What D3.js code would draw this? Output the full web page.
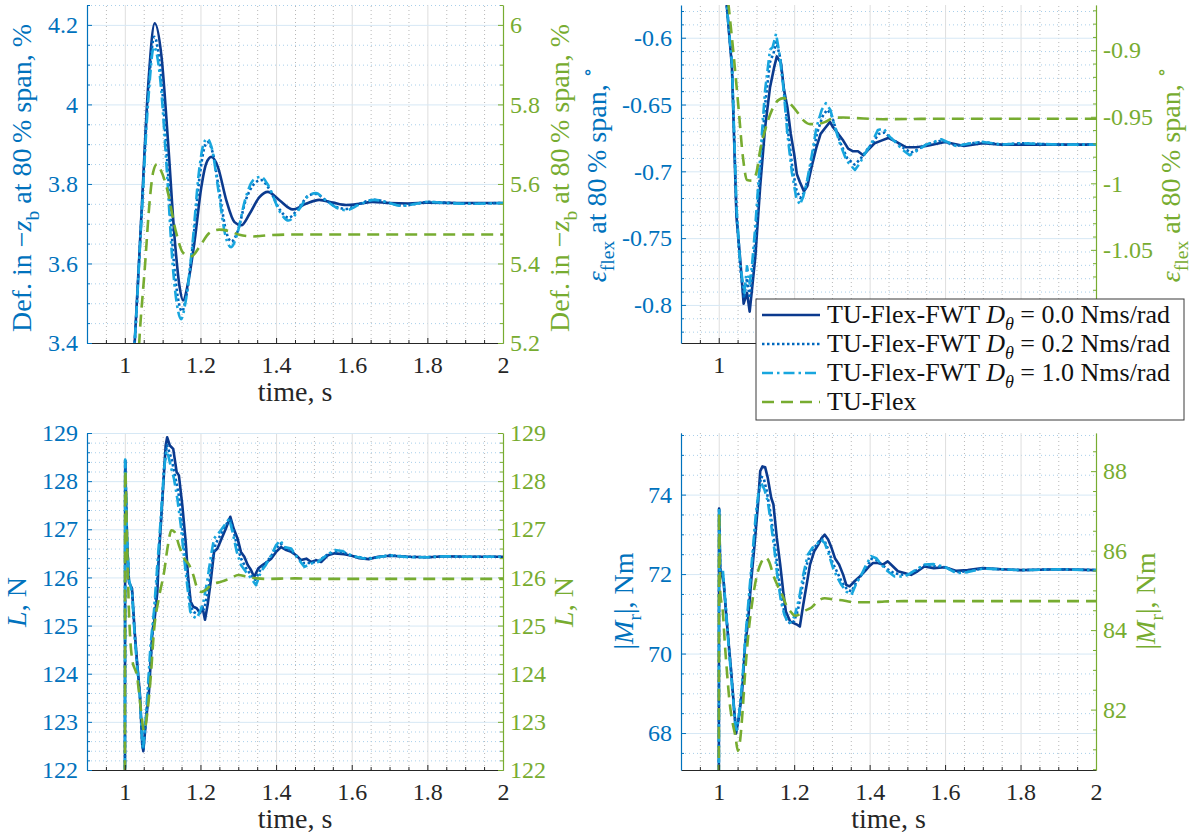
<!DOCTYPE html>
<html>
<head>
<meta charset="utf-8">
<script src="https://cdn.jsdelivr.net/npm/d3@7"></script>
<style>
body{margin:0;background:#fff}
</style>
</head>
<body>
<script>
// time axis
var timeTicks = [1,1.2,1.4,1.6,1.8,2]
var timeTickLabels = ["1","1.2","1.4","1.6","1.8","2"]

// deflection at 80% span
var defTicksL = [3.4,3.6,3.8,4,4.2]
var defTickLabelsL = ["3.4","3.6","3.8","4","4.2"]
var defTicksR = [5.2,5.4,5.6,5.8,6]
var defTickLabelsR = ["5.2","5.4","5.6","5.8","6"]
var defD00 = [[1.015,3.25],[1.026,3.40],[1.044,3.725],[1.062,4.05],[1.079,4.204],[1.097,4.12],[1.114,3.91],[1.132,3.66],[1.145,3.54],[1.154,3.507],[1.167,3.55],[1.185,3.66],[1.202,3.79],[1.215,3.851],[1.229,3.868],[1.246,3.843],[1.268,3.76],[1.29,3.704],[1.308,3.696],[1.33,3.725],[1.356,3.767],[1.378,3.78],[1.409,3.759],[1.444,3.736],[1.479,3.75],[1.514,3.76],[1.55,3.753],[1.585,3.747],[1.62,3.75],[1.655,3.755],[1.70,3.752],[1.75,3.751],[1.80,3.753],[1.9,3.752],[2.0,3.752]]
var defD02 = [[1.015,3.25],[1.026,3.40],[1.044,3.72],[1.062,4.03],[1.078,4.17],[1.095,4.08],[1.112,3.86],[1.13,3.60],[1.143,3.50],[1.151,3.48],[1.163,3.52],[1.18,3.65],[1.198,3.82],[1.21,3.89],[1.219,3.905],[1.232,3.88],[1.25,3.78],[1.268,3.68],[1.282,3.655],[1.298,3.68],[1.32,3.76],[1.342,3.80],[1.36,3.81],[1.38,3.79],[1.41,3.735],[1.433,3.715],[1.46,3.74],[1.485,3.77],[1.505,3.775],[1.53,3.76],[1.56,3.742],[1.585,3.737],[1.62,3.75],[1.66,3.76],[1.7,3.752],[1.73,3.746],[1.77,3.75],[1.80,3.755],[1.85,3.753],[1.9,3.751],[2.0,3.752]]
var defD10 = [[1.015,3.25],[1.026,3.40],[1.044,3.71],[1.062,4.01],[1.077,4.145],[1.094,4.06],[1.11,3.85],[1.128,3.58],[1.141,3.48],[1.149,3.46],[1.16,3.50],[1.178,3.64],[1.196,3.83],[1.208,3.90],[1.218,3.914],[1.23,3.89],[1.248,3.78],[1.266,3.67],[1.281,3.641],[1.296,3.67],[1.318,3.76],[1.34,3.81],[1.36,3.818],[1.38,3.795],[1.41,3.73],[1.433,3.708],[1.46,3.735],[1.485,3.77],[1.505,3.777],[1.53,3.76],[1.56,3.74],[1.585,3.734],[1.62,3.748],[1.66,3.76],[1.7,3.752],[1.73,3.745],[1.77,3.75],[1.80,3.755],[1.85,3.752],[1.9,3.75],[2.0,3.752]]
var defFlex = [[1.030,5.05],[1.038,5.2],[1.053,5.39],[1.066,5.56],[1.075,5.63],[1.085,5.65],[1.095,5.635],[1.11,5.594],[1.136,5.477],[1.154,5.427],[1.176,5.418],[1.198,5.443],[1.224,5.477],[1.25,5.485],[1.277,5.481],[1.303,5.472],[1.338,5.468],[1.38,5.471],[1.45,5.473],[2.0,5.473]]

// twist eps_flex at 80% span
var epsTicksL = [-0.8,-0.75,-0.7,-0.65,-0.6]
var epsTickLabelsL = ["-0.8","-0.75","-0.7","-0.65","-0.6"]
var epsTicksR = [-1.05,-1,-0.95,-0.9]
var epsTickLabelsR = ["-1.05","-1","-0.95","-0.9"]
var epsD00 = [[1.012,-0.55],[1.022,-0.578],[1.035,-0.622],[1.047,-0.734],[1.057,-0.766],[1.066,-0.799],[1.075,-0.791],[1.082,-0.805],[1.088,-0.789],[1.097,-0.764],[1.11,-0.711],[1.123,-0.667],[1.136,-0.637],[1.147,-0.622],[1.154,-0.614],[1.165,-0.619],[1.173,-0.639],[1.182,-0.652],[1.191,-0.672],[1.2,-0.687],[1.207,-0.702],[1.215,-0.708],[1.226,-0.715],[1.235,-0.711],[1.246,-0.697],[1.259,-0.682],[1.27,-0.672],[1.281,-0.668],[1.295,-0.663],[1.303,-0.667],[1.317,-0.672],[1.33,-0.677],[1.343,-0.683],[1.356,-0.685],[1.369,-0.685],[1.383,-0.688],[1.396,-0.684],[1.413,-0.679],[1.431,-0.677],[1.449,-0.675],[1.471,-0.678],[1.497,-0.682],[1.523,-0.682],[1.55,-0.681],[1.6,-0.678],[1.65,-0.681],[1.7,-0.679],[1.75,-0.680],[1.8,-0.680],[1.9,-0.680],[2.0,-0.680]]
var epsD02 = [[1.012,-0.55],[1.022,-0.578],[1.035,-0.620],[1.047,-0.730],[1.057,-0.772],[1.067,-0.795],[1.075,-0.780],[1.082,-0.795],[1.088,-0.780],[1.097,-0.752],[1.11,-0.700],[1.123,-0.650],[1.136,-0.618],[1.145,-0.612],[1.153,-0.603],[1.163,-0.615],[1.173,-0.640],[1.183,-0.668],[1.195,-0.697],[1.206,-0.714],[1.216,-0.720],[1.226,-0.716],[1.236,-0.706],[1.248,-0.690],[1.261,-0.671],[1.275,-0.659],[1.287,-0.654],[1.298,-0.657],[1.31,-0.668],[1.323,-0.679],[1.34,-0.690],[1.36,-0.695],[1.375,-0.691],[1.39,-0.685],[1.407,-0.679],[1.424,-0.672],[1.44,-0.671],[1.456,-0.675],[1.475,-0.679],[1.492,-0.683],[1.51,-0.686],[1.525,-0.684],[1.55,-0.680],[1.59,-0.677],[1.63,-0.681],[1.67,-0.679],[1.7,-0.678],[1.75,-0.680],[1.8,-0.679],[1.9,-0.680],[2.0,-0.680]]
var epsD10 = [[1.012,-0.55],[1.022,-0.578],[1.035,-0.619],[1.047,-0.726],[1.057,-0.770],[1.068,-0.791],[1.075,-0.771],[1.082,-0.784],[1.088,-0.771],[1.097,-0.741],[1.11,-0.689],[1.123,-0.639],[1.136,-0.609],[1.143,-0.607],[1.152,-0.597],[1.161,-0.612],[1.172,-0.639],[1.182,-0.672],[1.194,-0.701],[1.205,-0.719],[1.215,-0.725],[1.224,-0.719],[1.235,-0.706],[1.246,-0.689],[1.259,-0.667],[1.273,-0.654],[1.284,-0.649],[1.296,-0.654],[1.308,-0.667],[1.321,-0.679],[1.339,-0.692],[1.361,-0.699],[1.374,-0.694],[1.387,-0.687],[1.405,-0.679],[1.422,-0.669],[1.437,-0.668],[1.453,-0.674],[1.471,-0.679],[1.488,-0.684],[1.506,-0.688],[1.523,-0.685],[1.55,-0.680],[1.59,-0.676],[1.63,-0.681],[1.67,-0.679],[1.7,-0.678],[1.75,-0.680],[1.8,-0.679],[1.9,-0.680],[2.0,-0.680]]
var epsFlex = [[1.02,-0.85],[1.026,-0.866],[1.040,-0.905],[1.053,-0.945],[1.064,-0.98],[1.075,-0.9975],[1.087,-0.998],[1.099,-0.993],[1.11,-0.975],[1.123,-0.96],[1.141,-0.945],[1.158,-0.9375],[1.172,-0.936],[1.189,-0.94],[1.207,-0.946],[1.224,-0.9525],[1.242,-0.9555],[1.259,-0.9555],[1.281,-0.954],[1.303,-0.951],[1.33,-0.9505],[1.365,-0.951],[1.435,-0.9518],[1.6,-0.9515],[2.0,-0.9515]]

// lift
var liftTicks = [122,123,124,125,126,127,128,129]
var liftTickLabels = ["122","123","124","125","126","127","128","129"]
var liftD00 = [[1.0,118],[1.001,128.43],[1.006,126.74],[1.011,125.9],[1.019,125.77],[1.026,124.88],[1.033,124.19],[1.04,123.57],[1.046,122.53],[1.049,122.39],[1.055,122.94],[1.064,123.63],[1.073,124.88],[1.079,125.15],[1.086,125.7],[1.09,126.46],[1.099,127.57],[1.108,128.74],[1.112,128.91],[1.119,128.74],[1.128,128.67],[1.137,128.19],[1.143,128.12],[1.152,127.5],[1.161,126.74],[1.167,126.05],[1.174,125.5],[1.181,125.39],[1.19,125.36],[1.199,125.26],[1.205,125.39],[1.212,125.12],[1.219,125.43],[1.227,125.91],[1.236,126.53],[1.245,126.6],[1.256,126.81],[1.267,127.01],[1.279,127.26],[1.288,127.01],[1.298,126.81],[1.307,126.53],[1.316,126.43],[1.325,126.26],[1.334,126.15],[1.342,126.01],[1.353,126.19],[1.365,126.26],[1.376,126.32],[1.387,126.39],[1.4,126.53],[1.413,126.63],[1.427,126.57],[1.44,126.53],[1.453,126.46],[1.466,126.36],[1.48,126.39],[1.493,126.32],[1.506,126.36],[1.519,126.32],[1.537,126.46],[1.555,126.5],[1.58,126.48],[1.6,126.45],[1.62,126.4],[1.645,126.38],[1.67,126.43],[1.7,126.45],[1.75,126.43],[1.8,126.42],[1.85,126.44],[1.9,126.43],[2.0,126.43]]
var liftD02 = [[1.0,118],[1.001,128.44],[1.006,126.77],[1.011,125.92],[1.019,125.74],[1.026,124.84],[1.033,124.15],[1.04,123.54],[1.046,122.56],[1.049,122.41],[1.055,122.97],[1.066,124.1],[1.076,125.1],[1.086,126.0],[1.095,127.1],[1.104,128.3],[1.111,128.75],[1.117,128.62],[1.124,128.45],[1.133,128.1],[1.142,127.75],[1.15,127.2],[1.159,126.5],[1.167,125.9],[1.174,125.4],[1.182,125.28],[1.19,125.25],[1.2,125.3],[1.21,125.35],[1.22,125.7],[1.23,126.3],[1.24,126.7],[1.253,126.88],[1.265,127.05],[1.278,127.24],[1.287,126.98],[1.297,126.65],[1.308,126.38],[1.32,126.2],[1.334,126.05],[1.345,125.95],[1.358,126.15],[1.37,126.27],[1.385,126.42],[1.4,126.6],[1.412,126.7],[1.425,126.6],[1.44,126.56],[1.456,126.42],[1.472,126.3],[1.49,126.3],[1.51,126.33],[1.533,126.46],[1.555,126.53],[1.578,126.52],[1.6,126.45],[1.64,126.39],[1.67,126.42],[1.7,126.46],[1.75,126.43],[1.8,126.42],[1.85,126.44],[1.9,126.43],[2.0,126.43]]
var liftD10 = [[1.0,118],[1.001,128.45],[1.006,126.8],[1.011,125.95],[1.019,125.7],[1.026,124.8],[1.033,124.1],[1.04,123.5],[1.046,122.6],[1.048,122.43],[1.055,123.0],[1.068,124.6],[1.077,125.29],[1.086,126.26],[1.095,127.22],[1.104,128.26],[1.110,128.63],[1.115,128.53],[1.121,128.32],[1.13,128.05],[1.139,127.63],[1.148,127.08],[1.157,126.39],[1.166,125.77],[1.173,125.29],[1.181,125.19],[1.19,125.15],[1.199,125.29],[1.208,125.5],[1.219,125.98],[1.228,126.46],[1.236,126.81],[1.25,126.94],[1.263,127.08],[1.276,127.22],[1.285,126.94],[1.296,126.53],[1.307,126.26],[1.32,126.12],[1.334,125.98],[1.347,125.84],[1.36,126.12],[1.373,126.26],[1.387,126.46],[1.4,126.67],[1.411,126.77],[1.422,126.63],[1.44,126.6],[1.458,126.39],[1.475,126.22],[1.493,126.29],[1.511,126.32],[1.533,126.46],[1.555,126.57],[1.575,126.55],[1.6,126.45],[1.64,126.38],[1.67,126.42],[1.7,126.46],[1.75,126.42],[1.8,126.42],[1.85,126.44],[1.9,126.43],[2.0,126.43]]
var liftFlex = [[1.0,118],[1.001,128.22],[1.006,126.74],[1.011,125.29],[1.019,124.32],[1.033,123.91],[1.042,123.29],[1.051,122.81],[1.06,123.22],[1.069,123.98],[1.077,124.88],[1.09,125.57],[1.104,126.12],[1.114,126.67],[1.123,126.98],[1.132,126.94],[1.143,126.67],[1.157,126.39],[1.17,126.26],[1.181,126.05],[1.192,125.77],[1.203,125.7],[1.214,125.74],[1.228,125.84],[1.254,125.91],[1.28,125.98],[1.3,126.05],[1.325,126.01],[1.35,125.98],[1.375,125.97],[1.45,125.98],[1.5,125.97],[2.0,125.97]]

// root bending moment
var momTicksL = [68,70,72,74]
var momTickLabelsL = ["68","70","72","74"]
var momTicksR = [82,84,86,88]
var momTickLabelsR = ["82","84","86","88"]
var momD00 = [[1.0,64],[1.001,73.65],[1.004,72.15],[1.013,71.8],[1.019,71.06],[1.026,70.3],[1.033,69.55],[1.04,68.7],[1.046,67.99],[1.053,68.37],[1.062,69.04],[1.07,70.22],[1.077,70.72],[1.086,71.82],[1.095,72.74],[1.104,73.75],[1.11,74.59],[1.116,74.71],[1.123,74.69],[1.13,74.42],[1.139,73.92],[1.145,73.75],[1.154,72.91],[1.163,72.24],[1.171,71.56],[1.178,71.06],[1.189,70.81],[1.2,70.76],[1.209,70.72],[1.215,70.68],[1.224,71.23],[1.233,71.73],[1.242,72.24],[1.253,72.57],[1.264,72.74],[1.273,72.91],[1.281,72.99],[1.29,72.87],[1.299,72.66],[1.308,72.4],[1.319,72.24],[1.33,71.98],[1.338,71.73],[1.347,71.69],[1.36,71.82],[1.374,71.94],[1.387,72.07],[1.398,72.19],[1.409,72.28],[1.422,72.28],[1.435,72.24],[1.448,72.32],[1.462,72.19],[1.475,72.07],[1.492,72.03],[1.51,71.98],[1.527,72.07],[1.545,72.19],[1.57,72.15],[1.6,72.17],[1.63,72.08],[1.66,72.1],[1.7,72.15],[1.75,72.12],[1.8,72.1],[1.85,72.11],[1.9,72.12],[2.0,72.1]]
var momD02 = [[1.0,64],[1.001,73.66],[1.004,72.1],[1.012,71.95],[1.019,71.15],[1.026,70.26],[1.034,69.4],[1.042,68.45],[1.047,68.03],[1.054,68.45],[1.062,69.2],[1.071,70.4],[1.079,71.2],[1.088,72.2],[1.097,73.2],[1.105,73.95],[1.112,74.45],[1.119,74.42],[1.127,74.1],[1.136,73.6],[1.145,73.0],[1.153,72.4],[1.161,71.75],[1.17,71.2],[1.18,70.85],[1.19,70.75],[1.2,70.82],[1.21,71.1],[1.22,71.6],[1.232,72.2],[1.245,72.58],[1.258,72.72],[1.27,72.88],[1.28,72.85],[1.291,72.6],[1.302,72.28],[1.314,72.05],[1.326,71.8],[1.34,71.62],[1.352,71.56],[1.365,71.8],[1.378,71.97],[1.392,72.18],[1.405,72.38],[1.418,72.35],[1.432,72.24],[1.448,72.12],[1.465,72.02],[1.483,71.99],[1.5,71.98],[1.523,72.09],[1.545,72.22],[1.57,72.2],[1.6,72.17],[1.63,72.05],[1.66,72.07],[1.7,72.14],[1.75,72.12],[1.8,72.1],[1.85,72.11],[1.9,72.12],[2.0,72.1]]
var momD10 = [[1.0,64],[1.001,73.67],[1.004,72.07],[1.011,72.1],[1.018,71.23],[1.026,70.22],[1.035,69.21],[1.044,68.2],[1.048,68.08],[1.055,68.54],[1.063,69.38],[1.072,70.55],[1.081,71.56],[1.09,72.57],[1.099,73.58],[1.106,74.08],[1.113,74.29],[1.121,74.13],[1.13,73.83],[1.139,73.24],[1.148,72.57],[1.156,71.9],[1.165,71.31],[1.174,70.97],[1.185,70.76],[1.193,70.8],[1.202,70.97],[1.213,71.39],[1.224,71.98],[1.236,72.49],[1.248,72.66],[1.259,72.74],[1.271,72.87],[1.281,72.78],[1.292,72.49],[1.303,72.15],[1.315,71.9],[1.325,71.73],[1.338,71.56],[1.352,71.48],[1.365,71.77],[1.378,71.98],[1.391,72.24],[1.404,72.45],[1.418,72.4],[1.431,72.24],[1.448,72.07],[1.466,71.94],[1.484,71.94],[1.501,71.98],[1.523,72.11],[1.545,72.24],[1.57,72.25],[1.6,72.18],[1.63,72.02],[1.66,72.05],[1.7,72.14],[1.75,72.12],[1.8,72.1],[1.85,72.11],[1.9,72.12],[2.0,72.1]]
var momFlex = [[1.0,76],[1.001,86.95],[1.004,84.95],[1.011,84.45],[1.016,83.69],[1.022,82.93],[1.028,82.26],[1.035,81.76],[1.044,81.34],[1.051,80.96],[1.057,81.25],[1.063,81.93],[1.07,82.93],[1.079,83.94],[1.09,84.78],[1.101,85.37],[1.113,85.71],[1.123,85.83],[1.134,85.71],[1.145,85.37],[1.156,85.12],[1.169,84.87],[1.18,84.61],[1.192,84.45],[1.202,84.36],[1.215,84.4],[1.229,84.49],[1.246,84.57],[1.264,84.74],[1.281,84.8],[1.299,84.78],[1.334,84.74],[1.36,84.7],[1.4,84.7],[1.44,84.72],[1.5,84.73],[2.0,84.73]]

var legendLabels = ["0.0","0.2","1.0"]

var serifFont = "'Liberation Serif', 'DejaVu Serif', 'Times New Roman', serif"
var blueAxis = "#0072bd"
var greenAxis = "#77ac30"
var darkAxis = "#262626"
var lineStyles = [
    {color:"#0b3a8e", dash:null},
    {color:"#0068be", dash:"2.5,2.5"},
    {color:"#18a6de", dash:"11,4,2.5,4"},
    {color:"#77ac30", dash:"12,7"}
]
var legendBox = {x:756, y:299, w:428, h:121}
var labelSize = 28

var svg = d3.select("body").append("svg").attr("width",1192).attr("height",839)
    .style("font-family",serifFont)

var panels = [
    {id:"def", l:87, r:503, t:5, b:343, yL:[3.4,4.25], yR:[5.2,6.05],
     ticksL:defTicksL, labelsL:defTickLabelsL, ticksR:defTicksR, labelsR:defTickLabelsR, minorL:0.05, minorR:0.05,
     series:[defD00,defD02,defD10,defFlex], smooth:true,
     ylabel:[{t:"Def. in \u2212"},{t:"z",i:true},{t:"b",sub:true},{t:" at 80\u2009% span, %"}], labL:31, labR:569, labY:178},
    {id:"eps", l:681, r:1096, t:5, b:343, yL:[-0.8285,-0.5755], yR:[-1.12,-0.866],
     ticksL:epsTicksL, labelsL:epsTickLabelsL, ticksR:epsTicksR, labelsR:epsTickLabelsR, minorL:0.01, minorR:0.01,
     series:[epsD00,epsD02,epsD10,epsFlex], smooth:false, underLegend:true,
     ylabel:[{t:"\u03b5",i:true},{t:"flex",sub:true},{t:" at 80\u2009% span, "},{t:"\u2218",sup:true}], labL:606, labR:1180, labY:175},
    {id:"lift", l:87, r:503, t:433, b:770, yL:[122,129], yR:[122,129],
     ticksL:liftTicks, labelsL:liftTickLabels, ticksR:liftTicks, labelsR:liftTickLabels, minorL:0.2, minorR:0.2,
     series:[liftD00,liftD02,liftD10,liftFlex], smooth:false,
     ylabel:[{t:"L",i:true},{t:", N"}], labL:26, labR:573, labY:602},
    {id:"mom", l:681, r:1096, t:433, b:770, yL:[67.07,75.55], yR:[80.48,88.96],
     ticksL:momTicksL, labelsL:momTickLabelsL, ticksR:momTicksR, labelsR:momTickLabelsR, minorL:0.5, minorR:0.5,
     series:[momD00,momD02,momD10,momFlex], smooth:false,
     ylabel:[{t:"|"},{t:"M",i:true},{t:"r",sub:true},{t:"|, Nm"}], labL:633, labR:1155, labY:601}
]

function richText(sel, parts, size){
    var shift = 0
    parts.forEach(function(p){
        var ts = sel.append("tspan").text(p.t)
        var want = p.sub ? size*0.28 : (p.sup ? -size*0.42 : 0)
        if(want != shift){
            ts.attr("dy", want-shift)
            shift = want
        }
        if(p.sub || p.sup) ts.attr("font-size", size*0.7)
        if(p.i) ts.attr("font-style","italic")
    })
}

function minorValues(domain, step){
    var lo = Math.ceil(domain[0]/step-1e-6), hi = Math.floor(domain[1]/step+1e-6)
    return d3.range(lo, hi+1).map(function(k){return +(k*step).toFixed(4)})
}

function styleAxis(g, color, size){
    g.attr("font-family",serifFont).attr("font-size",size)
    g.select(".domain").attr("stroke",color).attr("stroke-width",1.2)
    g.selectAll(".tick line").attr("stroke",color).attr("stroke-width",1)
    g.selectAll(".tick text").attr("fill",color)
}

function drawPanel(p){
    var x = d3.scaleLinear().domain([0.9,2]).range([p.l,p.r])
    var yL = d3.scaleLinear().domain(p.yL).range([p.b,p.t])
    var yR = d3.scaleLinear().domain(p.yR).range([p.b,p.t])
    var w = p.r-p.l, h = p.b-p.t
    var g = svg.append("g").attr("class","panel_"+p.id)

    var xMinor = minorValues([0.9,2],0.05).filter(function(v){return timeTicks.indexOf(v)==-1})
    var yMinor = minorValues(p.yL,p.minorL).filter(function(v){
        return p.ticksL.every(function(t){return Math.abs(t-v)>1e-6})
    })

    // grid
    g.append("g").attr("transform","translate(0,"+p.b+")")
        .call(d3.axisBottom(x).tickValues(xMinor).tickSize(-h).tickFormat(""))
        .call(function(s){s.select(".domain").remove()})
        .selectAll("line").attr("stroke","#b8b8b8").attr("stroke-dasharray","1,3")
    g.append("g").attr("transform","translate("+p.l+",0)")
        .call(d3.axisLeft(yL).tickValues(yMinor).tickSize(-w).tickFormat(""))
        .call(function(s){s.select(".domain").remove()})
        .selectAll("line").attr("stroke","#a9cfea").attr("stroke-dasharray","1,3")
    g.append("g").attr("transform","translate(0,"+p.b+")")
        .call(d3.axisBottom(x).tickValues(timeTicks).tickSize(-h).tickFormat(""))
        .call(function(s){s.select(".domain").remove()})
        .selectAll("line").attr("stroke","#dedede")
    g.append("g").attr("transform","translate("+p.l+",0)")
        .call(d3.axisLeft(yL).tickValues(p.ticksL).tickSize(-w).tickFormat(""))
        .call(function(s){s.select(".domain").remove()})
        .selectAll("line").attr("stroke","#d6e8f5")

    // lines
    svg.append("clipPath").attr("id","clip_"+p.id)
        .append("rect").attr("x",p.l).attr("y",p.t).attr("width",w).attr("height",h)
    var plot = g.append("g").attr("clip-path","url(#clip_"+p.id+")")
    p.series.forEach(function(data,i){
        var y = i==3 ? yR : yL
        var curve = (p.smooth || i==3) ? d3.curveMonotoneX : d3.curveLinear
        var line = d3.line().x(function(d){return x(d[0])}).y(function(d){return y(d[1])}).curve(curve)
        plot.append("path").datum(data)
            .attr("d",line)
            .attr("fill","none")
            .attr("stroke",lineStyles[i].color)
            .attr("stroke-width",2.6)
            .attr("stroke-linejoin","round")
            .attr("stroke-dasharray",lineStyles[i].dash)
    })

    // axes
    var ax = g.append("g").attr("transform","translate(0,"+p.b+")")
        .call(d3.axisBottom(x).tickValues(timeTicks).tickSize(-5).tickSizeOuter(0).tickPadding(13)
            .tickFormat(function(d,i){return timeTickLabels[i]}))
    styleAxis(ax, darkAxis, 24)
    g.append("g").attr("transform","translate(0,"+p.b+")")
        .call(d3.axisBottom(x).tickValues(xMinor).tickSize(-3).tickSizeOuter(0).tickFormat(""))
        .call(function(s){s.select(".domain").remove()})
        .selectAll("line").attr("stroke",darkAxis)

    var al = g.append("g").attr("transform","translate("+p.l+",0)")
        .call(d3.axisLeft(yL).tickValues(p.ticksL).tickSize(-5).tickSizeOuter(0).tickPadding(9)
            .tickFormat(function(d,i){return p.labelsL[i]}))
    styleAxis(al, blueAxis, 24)
    g.append("g").attr("transform","translate("+p.l+",0)")
        .call(d3.axisLeft(yL).tickValues(yMinor).tickSize(-3).tickSizeOuter(0).tickFormat(""))
        .call(function(s){s.select(".domain").remove()})
        .selectAll("line").attr("stroke",blueAxis)

    var yMinorR = minorValues(p.yR,p.minorR).filter(function(v){
        return p.ticksR.every(function(t){return Math.abs(t-v)>1e-6})
    })
    var ar = g.append("g").attr("transform","translate("+p.r+",0)")
        .call(d3.axisRight(yR).tickValues(p.ticksR).tickSize(-5).tickSizeOuter(0).tickPadding(7)
            .tickFormat(function(d,i){return p.labelsR[i]}))
    styleAxis(ar, greenAxis, 24)
    g.append("g").attr("transform","translate("+p.r+",0)")
        .call(d3.axisRight(yR).tickValues(yMinorR).tickSize(-3).tickSizeOuter(0).tickFormat(""))
        .call(function(s){s.select(".domain").remove()})
        .selectAll("line").attr("stroke",greenAxis)

    // labels
    var xl = g.append("text").attr("class","xlabel").attr("x",(p.l+p.r)/2).attr("y",p.b+58)
        .attr("text-anchor","middle").attr("font-size",labelSize).attr("fill",darkAxis)
    richText(xl,[{t:"time, s"}],labelSize)

    var ll = g.append("text").attr("transform","translate("+p.labL+","+p.labY+") rotate(-90)")
        .attr("text-anchor","middle").attr("font-size",labelSize).attr("fill",blueAxis)
    richText(ll,p.ylabel,labelSize)
    var lr = g.append("text").attr("transform","translate("+p.labR+","+p.labY+") rotate(-90)")
        .attr("text-anchor","middle").attr("font-size",labelSize).attr("fill",greenAxis)
    richText(lr,p.ylabel,labelSize)

    // texts hidden behind the legend box are not drawn
    if(p.underLegend){
        g.selectAll("text").each(function(){
            var bb = this.getBoundingClientRect()
            if(bb.right > legendBox.x && bb.left < legendBox.x+legendBox.w &&
               bb.bottom > legendBox.y && bb.top < legendBox.y+legendBox.h){
                d3.select(this).remove()
            }
        })
    }
}

panels.forEach(drawPanel)

// legend
var leg = svg.append("g").attr("class","legend")
leg.append("rect").attr("x",legendBox.x).attr("y",legendBox.y).attr("width",legendBox.w).attr("height",legendBox.h)
    .attr("fill","#fff").attr("stroke","#3a3a3a").attr("stroke-width",1)
lineStyles.forEach(function(s,i){
    var cy = 315+i*29
    leg.append("line").attr("x1",762).attr("x2",820).attr("y1",cy).attr("y2",cy)
        .attr("stroke",s.color).attr("stroke-width",2.6).attr("stroke-dasharray",s.dash)
    var t = leg.append("text").attr("x",827).attr("y",cy+8).attr("font-size",26).attr("fill","#111")
    if(i<3){
        richText(t,[{t:"TU-Flex-FWT "},{t:"D",i:true},{t:"\u03b8",i:true,sub:true},{t:" = "+legendLabels[i]+" Nms/rad"}],26)
    }else{
        richText(t,[{t:"TU-Flex"}],26)
    }
})
</script>
</body>
</html>
